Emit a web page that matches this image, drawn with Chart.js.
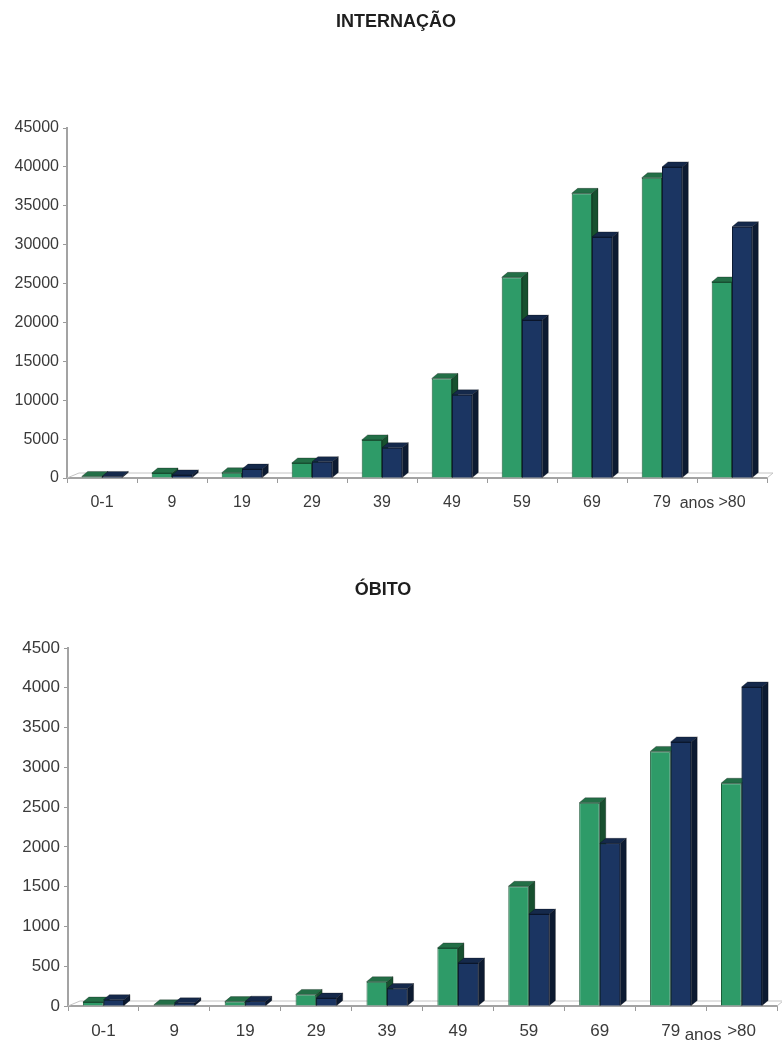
<!DOCTYPE html>
<html lang="pt">
<head>
<meta charset="utf-8">
<title>Internação e Óbito por faixa etária</title>
<script src="https://cdn.jsdelivr.net/npm/chart.js@4.4.1/dist/chart.umd.min.js"></script>
<style>
  html, body { margin: 0; padding: 0; background: #ffffff; }
  body { width: 782px; height: 1044px; position: relative; overflow: hidden; }
  .chart-box { position: absolute; left: 0; width: 782px; }
  #box-internacao { top: 0; height: 525px; }
  #box-obito { top: 560px; height: 484px; }
</style>
</head>
<body>
<div class="chart-box" id="box-internacao"><canvas id="chart-internacao"></canvas></div>
<div class="chart-box" id="box-obito"><canvas id="chart-obito"></canvas></div>
<script>
const categories = ["0-1", "9", "19", "29", "39", "49", "59", "69", "79", ">80"];
const extraAxisLabel = "anos";

const internacaoVerde = [200, 640, 680, 1930, 4900, 12800, 25800, 36600, 38600, 25200];
const internacaoAzul = [200, 400, 1150, 2100, 3900, 10700, 20300, 31000, 40000, 32300];

const obitoVerde = [50, 15, 55, 145, 305, 730, 1505, 2555, 3200, 2800];
const obitoAzul = [80, 40, 60, 100, 220, 540, 1155, 2045, 3320, 4010];

const internacaoTicks = { max: 45000, step: 5000 };
const obitoTicks = { max: 4500, step: 500 };

const FONT_FAMILY = '"Liberation Sans", Arial, sans-serif';
const DEPTH_X = 6;
const DEPTH_Y = 5;

const GREEN = { front: "#2e9b68", border: "#1c5c3a", side: "#17502f", top: "#236f47" };
const BLUE = { front: "#1b3562", border: "#0c1a33", side: "#0c1a31", top: "#15294b" };

function drawFace(ctx, points, color) {
  ctx.beginPath();
  ctx.moveTo(points[0][0], points[0][1]);
  for (let i = 1; i < points.length; i++) {
    ctx.lineTo(points[i][0], points[i][1]);
  }
  ctx.closePath();
  ctx.fillStyle = color;
  ctx.fill();
  ctx.lineWidth = 0.6;
  ctx.strokeStyle = "rgba(0, 0, 0, 0.45)";
  ctx.stroke();
}

function drawBarDepth(ctx, bar, faces) {
  const { x, y, base, width } = bar.getProps(["x", "y", "base", "width"], true);
  const left = x - width / 2;
  const right = x + width / 2;

  drawFace(ctx, [
    [right, y],
    [right + DEPTH_X, y - DEPTH_Y],
    [right + DEPTH_X, base - DEPTH_Y],
    [right, base],
  ], faces.side);

  drawFace(ctx, [
    [left, y],
    [left + DEPTH_X, y - DEPTH_Y],
    [right + DEPTH_X, y - DEPTH_Y],
    [right, y],
  ], faces.top);
}

// fake 3D: side and top faces, green first so the blue front hides it
const bar3dPlugin = {
  id: "bar3d",
  beforeDatasetsDraw(chart) {
    const ctx = chart.ctx;
    const { left, right, bottom } = chart.chartArea;
    ctx.save();
    ctx.strokeStyle = "#c4c4c4";
    ctx.lineWidth = 1;
    ctx.beginPath();
    ctx.moveTo(left, bottom);
    ctx.lineTo(left + DEPTH_X * 2, bottom - DEPTH_Y);
    ctx.lineTo(right + DEPTH_X, bottom - DEPTH_Y);
    ctx.lineTo(right, bottom);
    ctx.stroke();
    ctx.restore();
  },
  afterDatasetsDraw(chart) {
    const ctx = chart.ctx;
    const greenMeta = chart.getDatasetMeta(0);
    const blueMeta = chart.getDatasetMeta(1);
    ctx.save();
    greenMeta.data.forEach(function (greenBar, i) {
      const blueBar = blueMeta.data[i];
      drawBarDepth(ctx, greenBar, GREEN);
      blueBar.draw(ctx);
      drawBarDepth(ctx, blueBar, BLUE);
    });
    ctx.restore();
  },
};

const textPlugin = {
  id: "chartText",
  afterDraw(chart, args, opts) {
    const ctx = chart.ctx;
    ctx.save();
    ctx.textAlign = "center";
    ctx.textBaseline = "middle";

    ctx.font = `bold ${opts.titleSize}px ${FONT_FAMILY}`;
    ctx.fillStyle = "#1e1e1e";
    ctx.fillText(opts.title, opts.titleX, opts.titleY);

    const xScale = chart.scales.x;
    const last = categories.length - 1;
    const anosX = (xScale.getPixelForValue(last - 1) + xScale.getPixelForValue(last)) / 2 + opts.anosDx;
    ctx.font = `${opts.anosSize}px ${FONT_FAMILY}`;
    ctx.fillStyle = "#3a3a3a";
    ctx.fillText(extraAxisLabel, anosX, opts.anosY);
    ctx.restore();
  },
};

function createBarChart(canvasId, cfg) {
  const ctx = document.getElementById(canvasId).getContext("2d");
  return new Chart(ctx, {
    type: "bar",
    data: {
      labels: categories,
      datasets: [
        {
          data: cfg.green,
          backgroundColor: GREEN.front,
          borderColor: GREEN.border,
          borderWidth: 1,
        },
        {
          data: cfg.blue,
          backgroundColor: BLUE.front,
          borderColor: BLUE.border,
          borderWidth: 1,
        },
      ],
    },
    options: {
      responsive: true,
      maintainAspectRatio: false,
      animation: false,
      categoryPercentage: 0.58,
      barPercentage: 1,
      layout: {
        padding: { left: 0, right: cfg.padRight, top: cfg.padTop, bottom: 0 },
      },
      plugins: {
        legend: { display: false },
        tooltip: { enabled: false },
        title: { display: false },
        chartText: cfg.text,
      },
      scales: {
        x: {
          grid: {
            drawOnChartArea: false,
            drawTicks: true,
            tickLength: 5,
            color: "#9a9a9a",
          },
          border: { color: "#a3a3a3", width: 2 },
          ticks: {
            color: "#3a3a3a",
            padding: cfg.xPadding,
            maxRotation: 0,
            font: { family: FONT_FAMILY, size: cfg.fontSize },
          },
          afterFit: function (scale) {
            scale.height = cfg.xHeight;
          },
        },
        y: {
          min: 0,
          max: cfg.ticks.max,
          grid: {
            drawOnChartArea: false,
            drawTicks: true,
            tickLength: 4,
            color: "#9a9a9a",
          },
          border: { color: "#a3a3a3", width: 2 },
          ticks: {
            stepSize: cfg.ticks.step,
            color: "#3a3a3a",
            padding: 4,
            font: { family: FONT_FAMILY, size: cfg.fontSize },
            callback: function (value) {
              return String(value);
            },
          },
          afterFit: function (scale) {
            scale.width = cfg.yWidth;
          },
        },
      },
    },
    plugins: [bar3dPlugin, textPlugin],
  });
}

function buildCharts() {
  createBarChart("chart-internacao", {
    green: internacaoVerde,
    blue: internacaoAzul,
    ticks: internacaoTicks,
    fontSize: 16,
    yWidth: 67,
    padRight: 15,
    padTop: 128,
    xHeight: 47,
    xPadding: 10,
    text: { title: "INTERNAÇÃO", titleSize: 18, titleX: 396, titleY: 22, anosDx: 0, anosY: 504, anosSize: 16 },
  });

  createBarChart("chart-obito", {
    green: obitoVerde,
    blue: obitoAzul,
    ticks: obitoTicks,
    fontSize: 17,
    yWidth: 68,
    padRight: 5,
    padTop: 88,
    xHeight: 38,
    xPadding: 10,
    text: { title: "ÓBITO", titleSize: 18, titleX: 383, titleY: 30, anosDx: -3, anosY: 475, anosSize: 17 },
  });
}

window.addEventListener("DOMContentLoaded", buildCharts);
</script>
</body>
</html>
